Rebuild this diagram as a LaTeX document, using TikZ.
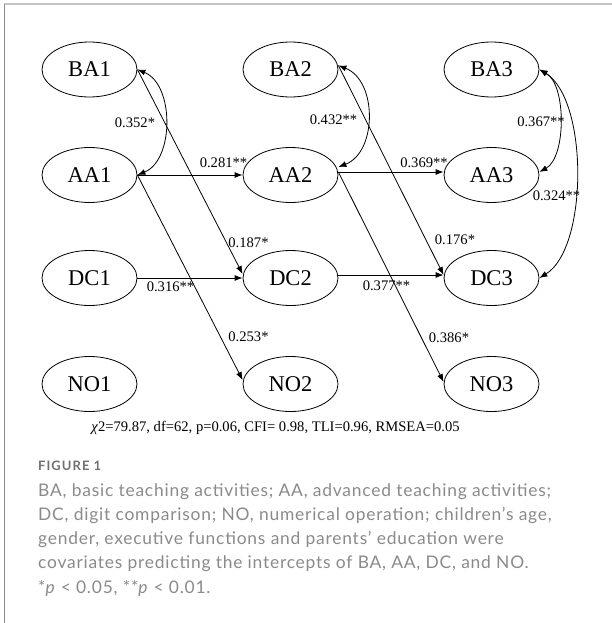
\documentclass[tikz,border=0pt]{standalone}
\usepackage{fontspec}
\setmainfont{Liberation Serif}
\newfontfamily\capfont[LetterSpace=4.5]{Lato}
\newfontfamily\figfont[LetterSpace=8]{Lato Bold}
\usetikzlibrary{arrows.meta,shapes.geometric}
\definecolor{capgray}{HTML}{8A8A8A}
\definecolor{figgray}{HTML}{707070}
\definecolor{frametop}{HTML}{C4C4C4}
\definecolor{frameleft}{HTML}{8C8C8C}
\begin{document}
\begin{tikzpicture}[x=1pt,y=-1pt,
  var/.style={draw, ellipse, line width=0.8pt, minimum width=95pt, minimum height=55pt, inner sep=0pt, font=\fontsize{22.5}{24}\selectfont},
  lab/.style={font=\fontsize{14.6}{16}\selectfont, inner sep=0pt},
  tip/.tip={Latex[length=8pt,width=6pt]},
  pth/.style={draw, line width=0.8pt, -tip},
  cov/.style={draw, line width=0.8pt, tip-tip},
  captxt/.style={anchor=base west, inner sep=0pt, text=capgray, font=\capfont\fontsize{17.4}{19}\selectfont}
]
\useasboundingbox (0,0) rectangle (612,623);
% frame
\draw[frametop, line width=1.6pt] (4,4) -- (612,4);
\draw[frameleft, line width=1.2pt] (4.5,4) -- (4.5,623);

% variables
\node[var] (BA1) at (89.5,69.5) {BA1};
\node[var] (AA1) at (89.5,175) {AA1};
\node[var] (DC1) at (89.5,278) {DC1};
\node[var] (NO1) at (89.5,384) {NO1};
\node[var] (BA2) at (290.5,69.5) {BA2};
\node[var] (AA2) at (290.5,175) {AA2};
\node[var] (DC2) at (290.5,278) {DC2};
\node[var] (NO2) at (290.5,384) {NO2};
\node[var] (BA3) at (491.5,69.5) {BA3};
\node[var] (AA3) at (491.5,175) {AA3};
\node[var] (DC3) at (491.5,278) {DC3};
\node[var] (NO3) at (491.5,384) {NO3};

% wave 1 -> 2
\draw[cov] (BA1.east) .. controls +(37,15) and +(37,-15) .. (AA1.east);
\draw[pth] (AA1.east) -- (AA2.west);
\draw[pth] (BA1.east) -- ([yshift=4pt]DC2.west);
\draw[pth] (DC1.east) -- (DC2.west);
\draw[pth] (AA1.east) -- ([yshift=4pt]NO2.west);

% wave 2 -> 3
\draw[cov] ([yshift=4pt]BA2.east) .. controls +(39,15) and +(39,-15) .. ([yshift=8pt]AA2.east);
\draw[pth] ([yshift=3pt]AA2.east) -- ([yshift=3pt]AA3.west);
\draw[pth] ([yshift=4pt]BA2.east) -- ([yshift=3pt]DC3.west);
\draw[pth] ([yshift=3pt]DC2.east) -- ([yshift=3pt]DC3.west);
\draw[pth] ([yshift=3pt]AA2.east) -- ([yshift=2pt]NO3.west);

% wave 3 covariances
\draw[cov] (BA3.east) .. controls +(27,15) and +(27,-15) .. ([yshift=3pt]AA3.east);
\draw[cov] (BA3.east) .. controls +(49,30) and +(49,-30) .. (DC3.east);

% coefficient labels
\node[lab] (l1) at (135,123) {0.352*};
\node[lab] (l2) at (223.5,163) {0.281**};
\node[lab] (l3) at (248.5,243) {0.187*};
\node[lab] (l4) at (170.5,287) {0.316**};
\node[lab] (l5) at (248.5,337) {0.253*};
\node[lab] (l6) at (333.5,120) {0.432**};
\node[lab] (l7) at (424,163) {0.369**};
\node[lab] (l8) at (455,240) {0.176*};
\node[lab] (l9) at (386.5,286) {0.377**};
\node[lab] (l10) at (449,338) {0.386*};
\node[lab] (l11) at (541,122) {0.367**};
\node[lab] (l12) at (556.5,196) {0.324**};

% fit indices
\node[lab] (fit) at (275.5,428) {\textit{χ}2=79.87, df=62, p=0.06, CFI= 0.98, TLI=0.96, RMSEA=0.05};

% caption
\node[anchor=base west, inner sep=0pt, text=figgray, font=\figfont\fontsize{13}{14}\selectfont] (fig) at (38,470.7) {FIGURE 1};
\node[captxt] (c1) at (38,496) {BA, basic teaching activities; AA, advanced teaching activities;};
\node[captxt] (c2) at (38,520.3) {DC, digit comparison; NO, numerical operation; children’s age,};
\node[captxt] (c3) at (38,544.6) {gender, executive functions and parents’ education were};
\node[captxt] (c4) at (38,568.9) {covariates predicting the intercepts of BA, AA, DC, and NO.};
\node[captxt] (c5) at (38,593.2) {*\textit{p} < 0.05, **\textit{p} < 0.01.};
\end{tikzpicture}
\end{document}
